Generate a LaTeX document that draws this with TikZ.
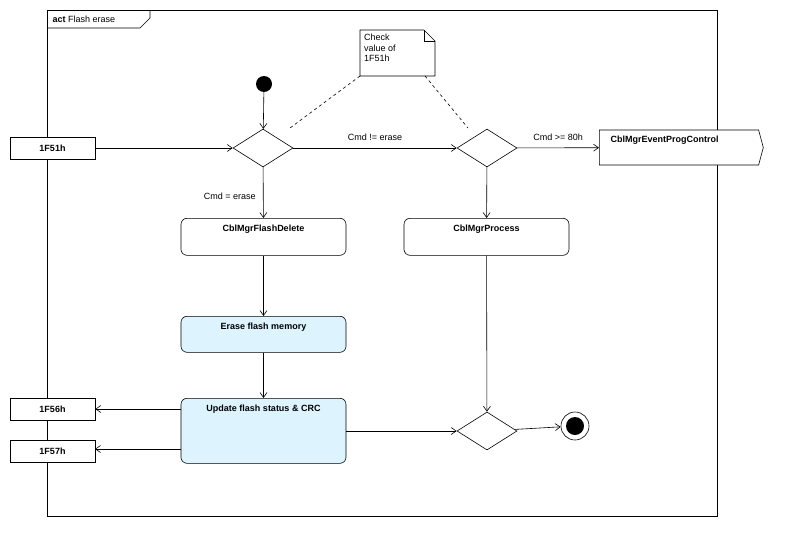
\documentclass[tikz,border=0pt]{standalone}
\usepackage{fontspec}
\setmainfont{Liberation Sans}
\usetikzlibrary{arrows.meta,shapes.geometric,shapes.symbols}
\definecolor{act}{HTML}{DDF4FF}
\begin{document}
\begin{tikzpicture}[x=1pt,y=-1pt,font=\fontsize{9}{10}\selectfont,
  ln/.style={draw,line width=0.6pt},
  arr/.style={ln,-{Straight Barb[length=5pt,width=7pt]}},
  pin/.style={ln,fill=white,minimum width=85pt,minimum height=22pt,inner sep=0pt,font=\fontsize{9}{10}\selectfont\bfseries},
  actn/.style={ln,rounded corners=6pt,fill=white,minimum width=165pt,inner sep=0pt,font=\fontsize{9}{10}\selectfont\bfseries},
  dec/.style={ln,diamond,fill=white,minimum width=60pt,minimum height=38pt,inner sep=0pt,aspect=1.6}]
\useasboundingbox (0,0) rectangle (800,554);
\draw[line width=0.6pt] (47,10) rectangle (717,516);
\draw[line width=0.6pt] (47,28) -- (140,28) -- (150,18) -- (150,10);
\node[anchor=west] (ttl) at (49,19) {\textbf{act}\ Flash erase};
% pins
\node[pin] (p51) at (52.5,148) {1F51h};
\node[pin] (p56) at (52.5,409) {1F56h};
\node[pin] (p57) at (52.5,451) {1F57h};
% nodes
\node[circle,fill=black,minimum size=16pt,inner sep=0pt] (init) at (264,84) {};
\node[dec] (d1) at (263,148) {};
\node[dec] (d2) at (487,148) {};
\node[dec] (d3) at (487,431) {};
\node[circle,draw,line width=0.6pt,minimum size=28pt,inner sep=0pt] (fin) at (575,426) {};
\node[circle,fill=black,minimum size=18pt,inner sep=0pt] at (fin) {};
\node[actn,minimum height=37pt,anchor=north] (del) at (263.5,218) {};
\node[font=\fontsize{9}{10}\selectfont\bfseries] at (263.5,229) {CblMgrFlashDelete};
\node[actn,minimum height=37pt,anchor=north] (proc) at (486.5,218) {};
\node[font=\fontsize{9}{10}\selectfont\bfseries] at (486.5,229) {CblMgrProcess};
\node[actn,fill=act,minimum height=36pt,anchor=north] (er) at (263.5,316) {};
\node[font=\fontsize{9}{10}\selectfont\bfseries] at (263.5,327) {Erase flash memory};
\node[actn,fill=act,minimum height=65pt,anchor=north] (upd) at (263.5,398) {};
\node[font=\fontsize{9}{10}\selectfont\bfseries] at (263.5,409) {Update flash status \& CRC};
\node[ln,signal,signal to=east,signal pointer angle=150,fill=white,minimum width=164pt,minimum height=35pt,inner sep=0pt,font=\fontsize{9}{10}\selectfont\bfseries,anchor=west] (sig) at (599,147.5) {};
\node[font=\fontsize{9}{10}\selectfont\bfseries,anchor=west] at (607,140) {CblMgrEventProgControl};
% note
\draw[line width=0.6pt,fill=white] (360,30) -- (424,30) -- (435,41) -- (435,76) -- (360,76) -- cycle;
\draw[line width=0.6pt] (424,30) -- (424,41) -- (435,41);
\node[align=left,anchor=north west,inner sep=0pt,font=\fontsize{9}{10.5}\selectfont] (note) at (364,34) {Check\\value of\\1F51h};
\draw[dashed,line width=0.6pt] (360,76) -- (290,128);
\draw[dashed,line width=0.6pt] (425,76) -- (468,128);
% edges
\draw[arr] (init) -- (d1);
\draw[arr] (p51) -- (d1);
\draw[arr] (d1) -- node[above,pos=0.5,yshift=4pt]{Cmd != erase} (d2);
\draw[arr] (d2) -- node[above,pos=0.5,yshift=4pt]{Cmd >= 80h} (sig);
\draw[arr] (d1) -- node[left,pos=0.58,xshift=-4pt]{Cmd = erase} (del);
\draw[arr] (d2) -- (proc);
\draw[arr] (del) -- (er);
\draw[arr] (er) -- (upd);
\draw[arr] (181,409) -- (p56);
\draw[arr] (181,449) -- (95,449);
\draw[arr] (upd.east |- d3) -- (d3);
\draw[arr] (proc) -- (d3);
\draw[arr] (d3) -- (fin);
\end{tikzpicture}
\end{document}
